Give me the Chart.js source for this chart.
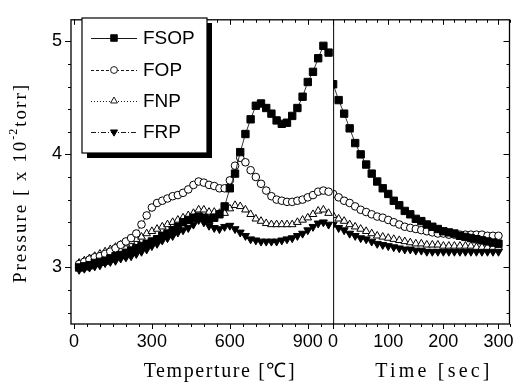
<!DOCTYPE html>
<html><head><meta charset="utf-8">
<script src="https://cdn.jsdelivr.net/npm/chart.js@4/dist/chart.umd.min.js"></script>
<style>html,body{margin:0;padding:0;background:#fff}</style>
</head><body>
<canvas id="c" width="526" height="385"></canvas>
<script>
// ---- data ----
const seriesNames = ['FSOP', 'FOP', 'FNP', 'FRP'];
const tempC = [20,40,60,80,100,120,140,160,180,200,220,240,260,280,300,320,340,360,380,400,420,440,460,480,500,520,540,560,580,600,620,640,660,680,700,720,740,760,780,800,820,840,860,880,900,920,940,960,980];
const timeSec = [0,10,20,30,40,50,60,70,80,90,100,110,120,130,140,150,160,170,180,190,200,210,220,230,240,250,260,270,280,290,300];

const fsopTemp = [3.00,3.01,3.02,3.04,3.05,3.06,3.08,3.10,3.11,3.13,3.15,3.17,3.19,3.21,3.23,3.25,3.28,3.30,3.33,3.36,3.40,3.42,3.44,3.45,3.44,3.43,3.44,3.47,3.54,3.70,3.83,4.02,4.18,4.31,4.43,4.45,4.41,4.36,4.30,4.27,4.28,4.34,4.41,4.51,4.64,4.73,4.85,4.96,4.90];
const fopTemp  = [3.03,3.05,3.07,3.09,3.10,3.12,3.14,3.17,3.20,3.23,3.26,3.30,3.38,3.46,3.53,3.57,3.59,3.61,3.63,3.64,3.66,3.69,3.73,3.76,3.75,3.73,3.72,3.70,3.70,3.77,3.90,3.97,3.93,3.86,3.80,3.74,3.68,3.63,3.60,3.59,3.58,3.58,3.59,3.60,3.62,3.64,3.67,3.68,3.67];
const fnpTemp  = [3.04,3.06,3.08,3.10,3.12,3.14,3.16,3.18,3.20,3.21,3.23,3.25,3.27,3.30,3.32,3.34,3.36,3.38,3.40,3.42,3.44,3.46,3.48,3.51,3.51,3.49,3.49,3.48,3.48,3.52,3.55,3.54,3.51,3.47,3.43,3.41,3.39,3.38,3.38,3.38,3.38,3.38,3.40,3.42,3.44,3.47,3.50,3.51,3.48];
const frpTemp  = [2.98,2.99,3.00,3.01,3.02,3.04,3.05,3.06,3.08,3.09,3.10,3.12,3.14,3.16,3.19,3.21,3.24,3.26,3.28,3.31,3.33,3.35,3.38,3.42,3.40,3.37,3.35,3.34,3.36,3.37,3.34,3.31,3.28,3.25,3.24,3.23,3.23,3.23,3.23,3.24,3.25,3.26,3.28,3.30,3.33,3.36,3.39,3.40,3.38];

const fsopTime = [4.62,4.48,4.36,4.23,4.10,4.00,3.91,3.83,3.76,3.70,3.65,3.59,3.55,3.50,3.47,3.43,3.41,3.38,3.36,3.34,3.32,3.31,3.30,3.28,3.27,3.26,3.25,3.24,3.23,3.22,3.21];
const fopTime  = [3.65,3.62,3.59,3.57,3.54,3.51,3.49,3.47,3.45,3.44,3.42,3.40,3.38,3.36,3.35,3.34,3.33,3.32,3.31,3.30,3.30,3.29,3.29,3.29,3.29,3.29,3.29,3.29,3.28,3.28,3.28];
const fnpTime  = [3.46,3.43,3.41,3.38,3.36,3.34,3.32,3.30,3.28,3.27,3.26,3.25,3.24,3.23,3.22,3.21,3.21,3.20,3.20,3.20,3.19,3.19,3.19,3.19,3.19,3.19,3.18,3.18,3.18,3.18,3.18];
const frpTime  = [3.38,3.35,3.33,3.30,3.28,3.26,3.25,3.23,3.21,3.20,3.19,3.18,3.17,3.16,3.16,3.15,3.15,3.14,3.14,3.14,3.14,3.14,3.14,3.14,3.14,3.14,3.14,3.14,3.14,3.14,3.14];

const tempTicks = [0, 300, 600, 900];
const timeTicks = [0, 100, 200, 300];
const pressureTicks = [3, 4, 5];

// ---- styles ----
const styleOf = {
  FSOP: {pointStyle:'rect', pointRadius:5.2, pointRotation:0, pointBackgroundColor:'#000', borderDash:[]},
  FOP:  {pointStyle:'circle', pointRadius:3.8, pointRotation:0, pointBackgroundColor:'#fff', borderDash:[3,2]},
  FNP:  {pointStyle:'triangle', pointRadius:4.4, pointRotation:0, pointBackgroundColor:'#fff', borderDash:[1,2]},
  FRP:  {pointStyle:'triangle', pointRadius:4.6, pointRotation:180, pointBackgroundColor:'#000', borderDash:[5,2,1,2]}
};
const tempSeries = [fsopTemp, fopTemp, fnpTemp, frpTemp];
const timeSeries = [fsopTime, fopTime, fnpTime, frpTime];

function makeSet(name, xs, ys, axis) {
  const s = styleOf[name];
  return Object.assign({
    label: name,
    data: xs.map((x, i) => ({x: x, y: ys[i]})),
    xAxisID: axis, yAxisID: 'y',
    borderColor: '#000', borderWidth: 0.8,
    pointBorderColor: '#000', pointBorderWidth: 1,
    pointHoverRadius: 0, tension: 0, fill: false
  }, s);
}
const datasets = [];
seriesNames.forEach((n, i) => datasets.push(makeSet(n, tempC, tempSeries[i], 'xT')));
seriesNames.forEach((n, i) => datasets.push(makeSet(n, timeSec, timeSeries[i], 'xt')));

// ---- plugin: frame, tick marks, boundary line ----
const framePlugin = {
  id: 'frame',
  afterDraw(chart) {
    const ctx = chart.ctx, a = chart.chartArea;
    const y = chart.scales.y, xT = chart.scales.xT, xt = chart.scales.xt;
    ctx.save();
    ctx.strokeStyle = '#000';
    ctx.lineWidth = 1.3;
    ctx.strokeRect(a.left, a.top, a.right - a.left, a.bottom - a.top);
    ctx.lineWidth = 1;
    ctx.beginPath();
    ctx.moveTo(xT.right + 0.5, a.top); ctx.lineTo(xT.right + 0.5, a.bottom);
    ctx.stroke();
    ctx.beginPath();
    for (let k = Math.ceil(y.min / 0.2); k * 0.2 <= y.max + 1e-9; k++) {
      const v = k * 0.2;
      const major = Math.abs(v - Math.round(v)) < 1e-6;
      const py = Math.round(y.getPixelForValue(v)) + 0.5;
      const L = major ? 6 : 3;
      ctx.moveTo(a.left - L, py); ctx.lineTo(a.left, py);
      ctx.moveTo(a.right, py); ctx.lineTo(a.right - L, py);
    }
    function xTicks(sc, step, majorStep) {
      for (let k = Math.ceil(sc.min / step); k * step <= sc.max + 1e-9; k++) {
        const v = k * step;
        const major = v % majorStep === 0;
        const px = Math.round(sc.getPixelForValue(v)) + 0.5;
        const L = major ? 5 : 3;
        ctx.moveTo(px, a.bottom); ctx.lineTo(px, a.bottom + L);
        ctx.moveTo(px, a.top); ctx.lineTo(px, a.top + L);
      }
    }
    xTicks(xT, 50, 300);
    xTicks(xt, 20, 100);
    ctx.stroke();
    ctx.restore();
  }
};

// ---- plugin: legend box with shadow ----
const legendPlugin = {
  id: 'boxLegend',
  afterDraw(chart) {
    const ctx = chart.ctx;
    const bx = 82, by = 18, bw = 125, bh = 135, sh = 5;
    ctx.save();
    ctx.fillStyle = '#000';
    ctx.fillRect(bx + sh, by + sh, bw, bh);
    ctx.fillStyle = '#fff';
    ctx.fillRect(bx, by, bw, bh);
    ctx.strokeStyle = '#000'; ctx.lineWidth = 1.2;
    ctx.strokeRect(bx, by, bw, bh);
    const rows = [38, 70, 101, 132];
    for (let i = 0; i < 4; i++) {
      const ds = chart.data.datasets[i];
      const yy = rows[i];
      ctx.lineWidth = 0.9; ctx.strokeStyle = '#000';
      ctx.setLineDash(ds.borderDash || []);
      ctx.beginPath(); ctx.moveTo(91, yy + 0.5); ctx.lineTo(137, yy + 0.5); ctx.stroke();
      ctx.setLineDash([]);
      ctx.fillStyle = ds.pointBackgroundColor;
      ctx.strokeStyle = '#000'; ctx.lineWidth = 0.9;
      Chart.helpers.drawPoint(ctx, {pointStyle: ds.pointStyle, rotation: ds.pointRotation, radius: ds.pointRadius * 0.9, borderWidth: 0.9}, 114, yy);
      ctx.fillStyle = '#000';
      ctx.font = '19px "Liberation Sans", Arial, sans-serif';
      ctx.textBaseline = 'middle'; ctx.textAlign = 'left';
      ctx.fillText(ds.label, 143, yy + 1);
    }
    ctx.restore();
  }
};

// ---- plugin: axis titles (serif, spaced) ----
const serif = '"Liberation Serif", "Times New Roman", serif';
const titlePlugin = {
  id: 'axisTitles',
  afterDraw(chart) {
    const ctx = chart.ctx;
    ctx.save();
    ctx.fillStyle = '#000';
    ctx.font = '20px ' + serif;
    ctx.letterSpacing = '1.6px';
    ctx.textBaseline = 'middle'; ctx.textAlign = 'center';
    ctx.fillText('Temperture [\u2103]', 220, 372);
    ctx.letterSpacing = '3.2px';
    ctx.fillText('Time [sec]', 434, 372);
    ctx.translate(21, 183);
    ctx.rotate(-Math.PI / 2);
    const p1 = 'Pressure [ x 10', p2 = '-2', p3 = 'torr]';
    ctx.font = '19px ' + serif; ctx.letterSpacing = '2px';
    const w1 = ctx.measureText(p1).width, w3 = ctx.measureText(p3).width;
    ctx.font = '12px ' + serif; ctx.letterSpacing = '1px';
    const w2 = ctx.measureText(p2).width;
    const total = w1 + w2 + w3 + 1;
    const x0 = -total / 2;
    ctx.textAlign = 'left';
    ctx.font = '19px ' + serif; ctx.letterSpacing = '2px';
    ctx.fillText(p1, x0, 0);
    ctx.font = '12px ' + serif; ctx.letterSpacing = '1px';
    ctx.fillText(p2, x0 + w1, -7);
    ctx.font = '19px ' + serif; ctx.letterSpacing = '2px';
    ctx.fillText(p3, x0 + w1 + w2 + 1, 0);
    ctx.restore();
  }
};

const tickFont = {family: '"Liberation Sans", Arial, sans-serif', size: 18};

new Chart(document.getElementById('c'), {
  type: 'line',
  data: {datasets: datasets},
  options: {
    responsive: false, animation: false, devicePixelRatio: 1,
    layout: {padding: {top: 7, right: 5, left: 0, bottom: 0}},
    plugins: {legend: {display: false}, tooltip: {enabled: false}},
    scales: {
      xT: {
        type: 'linear', position: 'bottom', stack: 'x', stackWeight: 269,
        min: -11.25, max: 997.5,
        afterBuildTicks: s => { s.ticks = tempTicks.map(v => ({value: v})); },
        afterFit: s => { s.height = 61; },
        grid: {display: false, drawTicks: false}, border: {display: false},
        ticks: {font: tickFont, color: '#000', padding: 7, autoSkip: false, maxRotation: 0}
      },
      xt: {
        type: 'linear', position: 'bottom', stack: 'x', stackWeight: 181,
        min: 0, max: 320,
        afterBuildTicks: s => { s.ticks = timeTicks.map(v => ({value: v})); },
        afterFit: s => { s.height = 61; },
        grid: {display: false, drawTicks: false}, border: {display: false},
        ticks: {font: tickFont, color: '#000', padding: 7, autoSkip: false, maxRotation: 0}
      },
      y: {
        type: 'linear', position: 'left',
        min: 2.5, max: 5.19,
        afterBuildTicks: s => { s.ticks = pressureTicks.map(v => ({value: v})); },
        afterFit: s => { s.width = 71; },
        grid: {display: false, drawTicks: false}, border: {display: false},
        ticks: {font: tickFont, color: '#000', padding: 9}
      }
    }
  },
  plugins: [framePlugin, legendPlugin, titlePlugin]
});
</script>
</body></html>
